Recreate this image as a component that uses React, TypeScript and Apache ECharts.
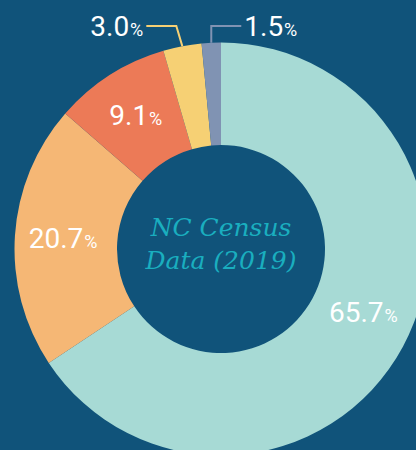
import React, { useEffect, useRef } from "react";
import * as echarts from "echarts";

const categories = ["A", "B", "C", "D", "E"];
const values = [65.7, 20.7, 9.1, 3.0, 1.5];
const colors = ["#a7dad5", "#f5b775", "#ec7a57", "#f6d074", "#8093b3"];
const centerTitle = "NC Census\nData (2019)";

const BG = "#10537a";
const CX = 221;
const CY = 249;
const R_IN = 104;
const R_OUT = 206.5;
const LABEL_Y = 26;

export default function App() {
  const ref = useRef<HTMLDivElement>(null);
  useEffect(() => {
    document.body.style.margin = "0";
    const chart = echarts.init(ref.current!, null, { renderer: "svg" });
    const data = values.map((v, i) => ({
      name: categories[i],
      value: v,
      itemStyle: { color: colors[i] },
      label:
        i >= 3
          ? { position: "outside", show: true }
          : { position: "inside", show: true },
      labelLine: i >= 3
        ? { show: true, lineStyle: { color: colors[i], width: 2 } }
        : { show: false },
    }));
    chart.setOption({
      animation: false,
      backgroundColor: BG,
      graphic: [
        {
          type: "text",
          x: CX,
          y: CY - 5,
          style: {
            text: centerTitle,
            fill: "#1aaebf",
            font: "italic 25px 'DejaVu Serif'",
            align: "center",
            verticalAlign: "middle",
            lineHeight: 33,
          },
        },
      ],
      series: [
        {
          type: "pie",
          center: [CX, CY],
          radius: [R_IN, R_OUT],
          startAngle: 90,
          clockwise: true,
          avoidLabelOverlap: false,
          data,
          label: {
            formatter: (p: any) => `{v|${p.value.toFixed(1)}}{p|%}`,
            rich: {
              v: { fontFamily: "Roboto", fontWeight: 400, fontSize: 28, color: "#ffffff" },
              p: { fontFamily: "Roboto", fontWeight: 400, fontSize: 18, color: "#ffffff", padding: [6, 0, 0, 1] },
            },
          },
          labelLine: { length: 18, length2: 30 },
          labelLayout: (params: any) => {
            const i = params.dataIndex;
            if (i === 0) return { dy: -11, dx: 3 };
            if (i < 3) return {};
            let p0 = params.labelLinePoints && params.labelLinePoints[0];
            if (!p0) {
              const before = values.slice(0, i).reduce((a, b) => a + b, 0);
              const mid = ((before + values[i] / 2) / 100) * 2 * Math.PI;
              p0 = [CX + R_OUT * Math.sin(mid), CY - R_OUT * Math.cos(mid)];
            }
            if (i === 3) {
              const knee = [p0[0] - 6, LABEL_Y];
              const end = [knee[0] - 30, LABEL_Y];
              return {
                x: end[0] - 3,
                y: LABEL_Y,
                align: "right",
                verticalAlign: "middle",
                labelLinePoints: [p0, knee, end],
              };
            }
            const knee = [p0[0], LABEL_Y];
            const end = [knee[0] + 30, LABEL_Y];
            return {
              x: end[0] + 3,
              y: LABEL_Y,
              align: "left",
              verticalAlign: "middle",
              labelLinePoints: [p0, knee, end],
            };
          },
        },
      ],
    });
    return () => chart.dispose();
  }, []);
  return <div ref={ref} style={{ width: 416, height: 450 }} />;
}
